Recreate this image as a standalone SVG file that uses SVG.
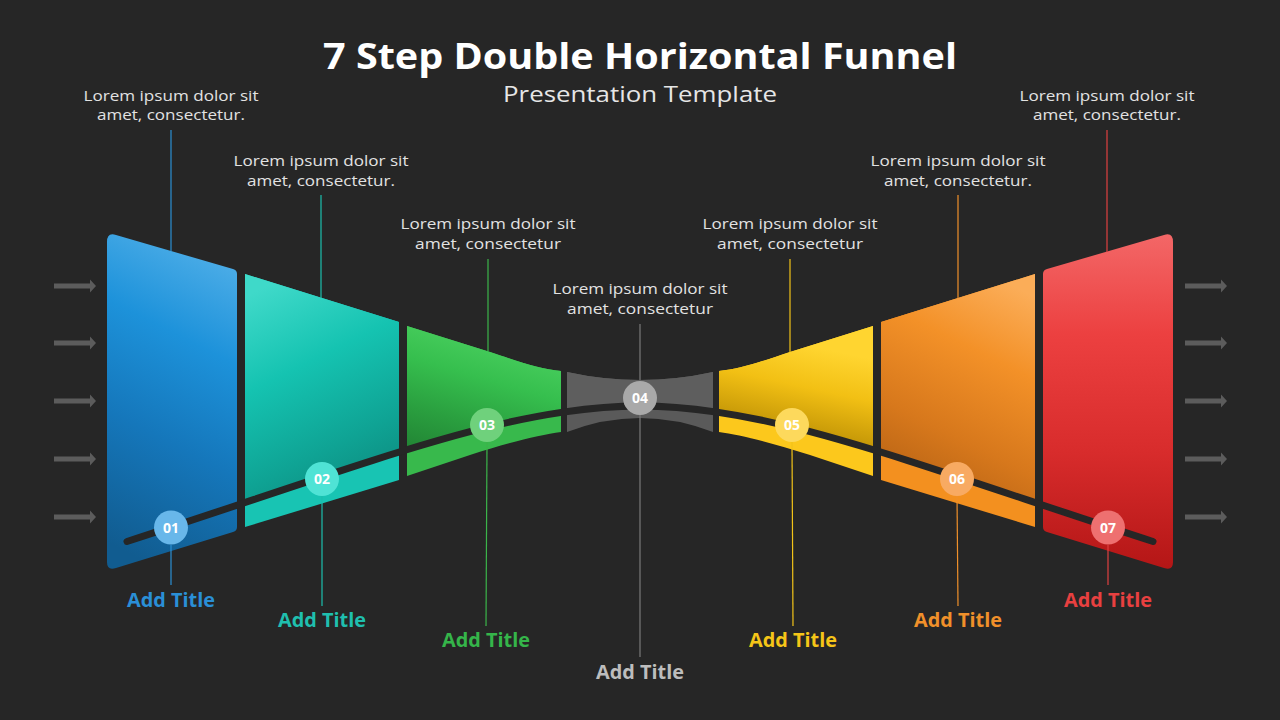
<svg xmlns="http://www.w3.org/2000/svg" xmlns:xlink="http://www.w3.org/1999/xlink" width="1280" height="720" viewBox="0 0 1280 720">
<style>
  text { font-family: "Open Sans", "Liberation Sans", sans-serif; }
  .title { font-size: 35px; font-weight: 700; fill: #ffffff; }
  .sub { font-size: 22px; font-weight: 400; fill: #e6e6e6; }
  .desc { font-size: 15px; fill: #e2e2e2; }
  .num { font-size: 14px; font-weight: 700; fill: #ffffff; }
  .lbl { font-size: 19px; font-weight: 700; }
  .arrow { fill: #5c5c5c; }
  .track { fill: none; stroke: #262626; stroke-width: 7; stroke-linecap: round; }
  .lead { stroke-width: 1.2; fill: none; }
</style>
<defs>
  <path id="arr" d="M0,-2.5 H36 V-6.5 L42,0 L36,6.5 V2.5 H0 Z"/>
  <path id="track" d="M127,541.5 C377,460.25 510,406 640,406 C770,406 903,460.25 1153,541.5"/>
  <clipPath id="c1"><rect x="0" y="0" width="241" height="720"/></clipPath>
  <clipPath id="c2"><rect x="241" y="0" width="162" height="720"/></clipPath>
  <clipPath id="c3"><rect x="403" y="0" width="161" height="720"/></clipPath>
  <clipPath id="c4"><rect x="564" y="0" width="152" height="720"/></clipPath>
  <clipPath id="c5"><rect x="716" y="0" width="161" height="720"/></clipPath>
  <clipPath id="c6"><rect x="877" y="0" width="162" height="720"/></clipPath>
  <clipPath id="c7"><rect x="1039" y="0" width="241" height="720"/></clipPath>
  <clipPath id="above">
    <path d="M0,0 H1280 V720 H1153 V541.5 C903,460.25 770,406 640,406 C510,406 377,460.25 127,541.5 V720 H0 Z"/>
  </clipPath>
  <linearGradient id="gBlue" x1="0.6" y1="0" x2="0.4" y2="1">
    <stop offset="0" stop-color="#4eaee8"/>
    <stop offset="0.3" stop-color="#1d92da"/>
    <stop offset="0.62" stop-color="#1577bb"/>
    <stop offset="1" stop-color="#115c90"/>
  </linearGradient>
  <linearGradient id="gTeal" x1="0.3" y1="0" x2="0.6" y2="1">
    <stop offset="0" stop-color="#3fd9c9"/>
    <stop offset="0.35" stop-color="#15c3b1"/>
    <stop offset="0.7" stop-color="#0fa394"/>
    <stop offset="1" stop-color="#0c8478"/>
  </linearGradient>
  <linearGradient id="gGreen" x1="0.6" y1="0" x2="0.3" y2="1">
    <stop offset="0" stop-color="#4fd363"/>
    <stop offset="0.35" stop-color="#36bf4e"/>
    <stop offset="0.65" stop-color="#2a9f3f"/>
    <stop offset="1" stop-color="#1f7c31"/>
  </linearGradient>
  <linearGradient id="gYellow" x1="0.45" y1="0.1" x2="0.25" y2="1">
    <stop offset="0" stop-color="#ffd530"/>
    <stop offset="0.3" stop-color="#f2c014"/>
    <stop offset="0.6" stop-color="#c89a08"/>
    <stop offset="1" stop-color="#927003"/>
  </linearGradient>
  <linearGradient id="gOrange" x1="0.7" y1="0" x2="0.4" y2="1">
    <stop offset="0" stop-color="#fbad58"/>
    <stop offset="0.3" stop-color="#f39128"/>
    <stop offset="0.65" stop-color="#d7781c"/>
    <stop offset="1" stop-color="#ae5d12"/>
  </linearGradient>
  <linearGradient id="gRed" x1="0.5" y1="0" x2="0.5" y2="1">
    <stop offset="0" stop-color="#f36767"/>
    <stop offset="0.3" stop-color="#ec4040"/>
    <stop offset="0.65" stop-color="#d82c2c"/>
    <stop offset="1" stop-color="#b41616"/>
  </linearGradient>
</defs>

<rect x="0" y="0" width="1280" height="720" fill="#262626"/>

<g id="header">
  <text class="title" x="640" y="69" text-anchor="middle" textLength="634" lengthAdjust="spacingAndGlyphs">7 Step Double Horizontal Funnel</text>
  <text class="sub" x="640" y="102" text-anchor="middle" textLength="274" lengthAdjust="spacingAndGlyphs">Presentation Template</text>
</g>

<g id="arrows-in">
  <use href="#arr" class="arrow" x="54" y="286"/>
  <use href="#arr" class="arrow" x="54" y="343"/>
  <use href="#arr" class="arrow" x="54" y="401"/>
  <use href="#arr" class="arrow" x="54" y="459"/>
  <use href="#arr" class="arrow" x="54" y="517"/>
</g>
<g id="arrows-out">
  <use href="#arr" class="arrow" x="1185" y="286"/>
  <use href="#arr" class="arrow" x="1185" y="343"/>
  <use href="#arr" class="arrow" x="1185" y="401"/>
  <use href="#arr" class="arrow" x="1185" y="459"/>
  <use href="#arr" class="arrow" x="1185" y="517"/>
</g>

<g id="step-1">
  <path d="M107,242 Q107,232 116,235 L233,269 Q237,270 237,274 L237,527 Q237,531 233,532 L116,568 Q107,571 107,562 Z" fill="url(#gBlue)"/>
  <use href="#track" class="track" clip-path="url(#c1)"/>
  <circle cx="171" cy="527.5" r="17" fill="#68b7ea"/>
  <text class="num" x="171" y="532.5" text-anchor="middle">01</text>
  <text class="desc" x="171" y="100.5" text-anchor="middle" textLength="175" lengthAdjust="spacingAndGlyphs">Lorem ipsum dolor sit</text>
  <text class="desc" x="171" y="120" text-anchor="middle" textLength="148" lengthAdjust="spacingAndGlyphs">amet, consectetur.</text>
  <text class="lbl" x="171" y="607" text-anchor="middle" fill="#2a8fd6" textLength="88" lengthAdjust="spacingAndGlyphs">Add Title</text>
</g>

<g id="step-2">
  <path d="M245,274 L399,322 L399,480 L245,527 Z" fill="#18c4b3"/>
  <path d="M245,274 L399,322 L399,480 L245,527 Z" fill="url(#gTeal)" clip-path="url(#above)"/>
  <use href="#track" class="track" clip-path="url(#c2)"/>
  <circle cx="322" cy="479" r="17" fill="#4fe3d5"/>
  <text class="num" x="322" y="484" text-anchor="middle">02</text>
  <text class="desc" x="321" y="166" text-anchor="middle" textLength="175" lengthAdjust="spacingAndGlyphs">Lorem ipsum dolor sit</text>
  <text class="desc" x="321" y="185.5" text-anchor="middle" textLength="148" lengthAdjust="spacingAndGlyphs">amet, consectetur.</text>
  <text class="lbl" x="322" y="627" text-anchor="middle" fill="#1fbfae" textLength="88" lengthAdjust="spacingAndGlyphs">Add Title</text>
</g>

<g id="step-3">
  <path d="M407,326 L490,352 C520,362 540,369 561,371 L561,432 C540,435 510,442 470,455 L407,476 Z" fill="#38b94c"/>
  <path d="M407,326 L490,352 C520,362 540,369 561,371 L561,432 C540,435 510,442 470,455 L407,476 Z" fill="url(#gGreen)" clip-path="url(#above)"/>
  <use href="#track" class="track" clip-path="url(#c3)"/>
  <circle cx="487" cy="425" r="17" fill="#6fd17c"/>
  <text class="num" x="487" y="430" text-anchor="middle">03</text>
  <text class="desc" x="488" y="229" text-anchor="middle" textLength="175" lengthAdjust="spacingAndGlyphs">Lorem ipsum dolor sit</text>
  <text class="desc" x="488" y="248.5" text-anchor="middle" textLength="146" lengthAdjust="spacingAndGlyphs">amet, consectetur</text>
  <text class="lbl" x="486" y="647" text-anchor="middle" fill="#35b54a" textLength="88" lengthAdjust="spacingAndGlyphs">Add Title</text>
</g>

<g id="step-4">
  <path d="M567,372 Q640,388 713,372 L713,432 Q640,404 567,432 Z" fill="#5a5a5a"/>
  <path d="M567,372 Q640,388 713,372 L713,432 Q640,404 567,432 Z" fill="#5e5e5e" clip-path="url(#above)"/>
  <use href="#track" class="track" clip-path="url(#c4)"/>
  <circle cx="640" cy="398" r="17" fill="#a9a9a9"/>
  <text class="num" x="640" y="403" text-anchor="middle">04</text>
  <text class="desc" x="640" y="294" text-anchor="middle" textLength="175" lengthAdjust="spacingAndGlyphs">Lorem ipsum dolor sit</text>
  <text class="desc" x="640" y="313.5" text-anchor="middle" textLength="146" lengthAdjust="spacingAndGlyphs">amet, consectetur</text>
  <text class="lbl" x="640" y="679" text-anchor="middle" fill="#bdbdbd" textLength="88" lengthAdjust="spacingAndGlyphs">Add Title</text>
</g>

<g id="step-5">
  <path d="M873,326 L790,352 C760,362 740,369 719,371 L719,432 C740,435 770,442 810,455 L873,476 Z" fill="#fcc81c"/>
  <path d="M873,326 L790,352 C760,362 740,369 719,371 L719,432 C740,435 770,442 810,455 L873,476 Z" fill="url(#gYellow)" clip-path="url(#above)"/>
  <use href="#track" class="track" clip-path="url(#c5)"/>
  <circle cx="792" cy="425" r="17" fill="#fdd95c"/>
  <text class="num" x="792" y="430" text-anchor="middle">05</text>
  <text class="desc" x="790" y="229" text-anchor="middle" textLength="175" lengthAdjust="spacingAndGlyphs">Lorem ipsum dolor sit</text>
  <text class="desc" x="790" y="248.5" text-anchor="middle" textLength="146" lengthAdjust="spacingAndGlyphs">amet, consectetur</text>
  <text class="lbl" x="793" y="647" text-anchor="middle" fill="#f5c518" textLength="88" lengthAdjust="spacingAndGlyphs">Add Title</text>
</g>

<g id="step-6">
  <path d="M1035,274 L881,322 L881,480 L1035,527 Z" fill="#f3901f"/>
  <path d="M1035,274 L881,322 L881,480 L1035,527 Z" fill="url(#gOrange)" clip-path="url(#above)"/>
  <use href="#track" class="track" clip-path="url(#c6)"/>
  <circle cx="957" cy="479" r="17" fill="#f8aa62"/>
  <text class="num" x="957" y="484" text-anchor="middle">06</text>
  <text class="desc" x="958" y="166" text-anchor="middle" textLength="175" lengthAdjust="spacingAndGlyphs">Lorem ipsum dolor sit</text>
  <text class="desc" x="958" y="185.5" text-anchor="middle" textLength="148" lengthAdjust="spacingAndGlyphs">amet, consectetur.</text>
  <text class="lbl" x="958" y="627" text-anchor="middle" fill="#f0902a" textLength="88" lengthAdjust="spacingAndGlyphs">Add Title</text>
</g>

<g id="step-7">
  <path d="M1173,242 Q1173,232 1164,235 L1047,269 Q1043,270 1043,274 L1043,527 Q1043,531 1047,532 L1164,568 Q1173,571 1173,562 Z" fill="url(#gRed)"/>
  <use href="#track" class="track" clip-path="url(#c7)"/>
  <circle cx="1108" cy="527.5" r="17" fill="#ee7070"/>
  <text class="num" x="1108" y="532.5" text-anchor="middle">07</text>
  <text class="desc" x="1107" y="100.5" text-anchor="middle" textLength="175" lengthAdjust="spacingAndGlyphs">Lorem ipsum dolor sit</text>
  <text class="desc" x="1107" y="120" text-anchor="middle" textLength="148" lengthAdjust="spacingAndGlyphs">amet, consectetur.</text>
  <text class="lbl" x="1108" y="607" text-anchor="middle" fill="#e84040" textLength="88" lengthAdjust="spacingAndGlyphs">Add Title</text>
</g>

<g id="connectors">
  <line class="lead" stroke="#2b8fd4" x1="171" y1="130" x2="171" y2="251"/>
  <line class="lead" stroke="#2b8fd4" x1="171" y1="545" x2="171" y2="585"/>
  <line class="lead" stroke="#1bbfae" x1="321" y1="195" x2="321" y2="298"/>
  <line class="lead" stroke="#1bbfae" x1="322" y1="496" x2="322" y2="606"/>
  <line class="lead" stroke="#3bb54a" x1="488" y1="259" x2="488" y2="351"/>
  <line class="lead" stroke="#3bb54a" x1="487" y1="442" x2="486" y2="626"/>
  <line class="lead" stroke="#7a7a7a" x1="640" y1="324" x2="640" y2="380"/>
  <line class="lead" stroke="#7a7a7a" x1="640" y1="415" x2="640" y2="657"/>
  <line class="lead" stroke="#f2c318" x1="790" y1="259" x2="790" y2="352"/>
  <line class="lead" stroke="#f2c318" x1="792" y1="442" x2="793" y2="626"/>
  <line class="lead" stroke="#f0902a" x1="958" y1="195" x2="958" y2="298"/>
  <line class="lead" stroke="#f0902a" x1="957" y1="496" x2="958" y2="606"/>
  <line class="lead" stroke="#e04040" x1="1107" y1="130" x2="1107" y2="252"/>
  <line class="lead" stroke="#e04040" x1="1108" y1="545" x2="1108" y2="585"/>
</g>
</svg>
